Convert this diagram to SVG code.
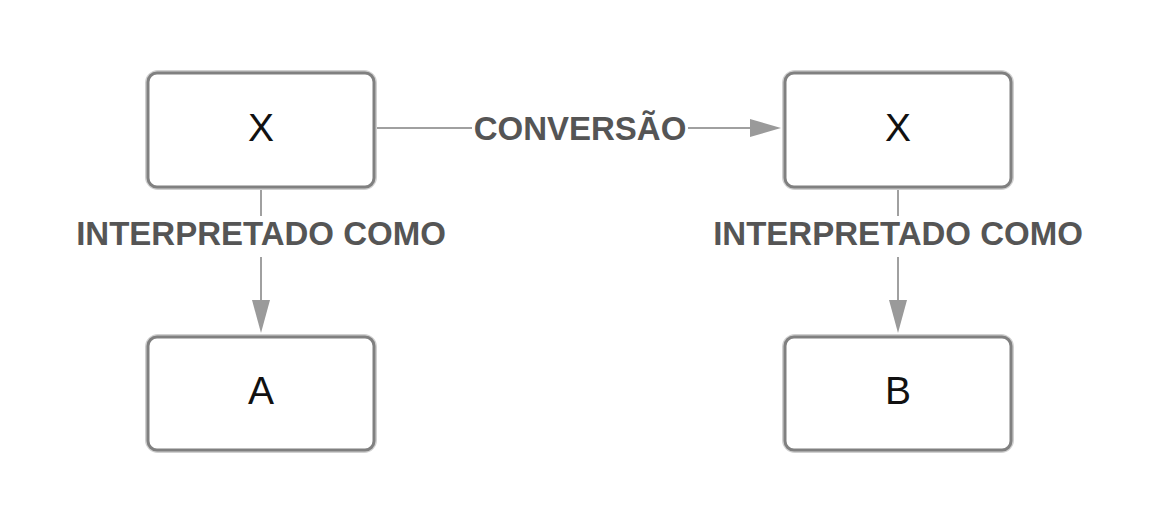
<svg xmlns="http://www.w3.org/2000/svg" width="1161" height="525" viewBox="0 0 1161 525">
<style>
.box{fill:#fff;stroke:#808080;stroke-width:3}
.halo{fill:none;stroke:#d0d0d0;stroke-width:6}
.node{font-family:"Liberation Sans",Arial,sans-serif;font-size:39px;fill:#111;text-anchor:middle}
.lbl{font-family:"Liberation Sans",Arial,sans-serif;font-size:33px;font-weight:bold;fill:#555;text-anchor:middle}
.line{stroke:#a0a0a0;stroke-width:2;fill:none}
.head{fill:#9a9a9a}
</style>
<g id="connectors">
  <line class="line" x1="376" y1="128" x2="472" y2="128"/>
  <line class="line" x1="688" y1="128" x2="752" y2="128"/>
  <polygon class="head" points="750,119 781,128 750,137"/>
  <text class="lbl" x="580" y="140">CONVERSÃO</text>
  <line class="line" x1="261" y1="189" x2="261" y2="216"/>
  <line class="line" x1="261" y1="257" x2="261" y2="302"/>
  <polygon class="head" points="252,300 261,333 270,300"/>
  <text class="lbl" x="261" y="245">INTERPRETADO COMO</text>
  <line class="line" x1="898" y1="189" x2="898" y2="216"/>
  <line class="line" x1="898" y1="257" x2="898" y2="302"/>
  <polygon class="head" points="889,300 898,333 907,300"/>
  <text class="lbl" x="898" y="245">INTERPRETADO COMO</text>
</g>
<g id="node-x1">
  <rect class="halo" x="148" y="73" width="226" height="114" rx="10"/>
  <rect class="box" x="148" y="73" width="226" height="114" rx="9"/>
  <text class="node" x="261" y="141">X</text>
</g>
<g id="node-x2">
  <rect class="halo" x="785" y="73" width="226" height="114" rx="10"/>
  <rect class="box" x="785" y="73" width="226" height="114" rx="9"/>
  <text class="node" x="898" y="141">X</text>
</g>
<g id="node-a">
  <rect class="halo" x="148" y="337" width="226" height="113" rx="10"/>
  <rect class="box" x="148" y="337" width="226" height="113" rx="9"/>
  <text class="node" x="261" y="404">A</text>
</g>
<g id="node-b">
  <rect class="halo" x="785" y="337" width="226" height="113" rx="10"/>
  <rect class="box" x="785" y="337" width="226" height="113" rx="9"/>
  <text class="node" x="898" y="404">B</text>
</g>
</svg>
